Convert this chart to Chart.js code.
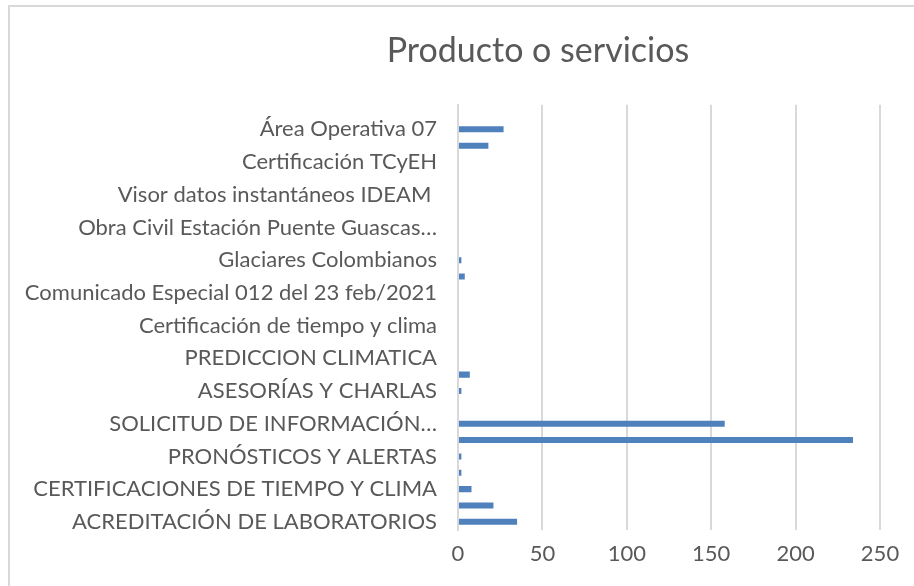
<!DOCTYPE html>
<html>
<head>
<meta charset="utf-8">
<script src="https://cdn.jsdelivr.net/npm/chart.js@4/dist/chart.umd.min.js"></script>
<style>
  html, body { margin: 0; padding: 0; background: #fff; overflow: hidden; }
  .frame {
    position: absolute; left: 8px; top: 5px;
    width: 1056px; height: 610px;
    border: 2px solid #d9d9d9; background: #fff;
  }
  canvas { display: block; }
</style>
</head>
<body>
<div class="frame"><canvas id="chart" width="1056" height="610"></canvas></div>
<script>
// Categorias de abajo hacia arriba (orden de Excel).
// Excel solo muestra una etiqueta de cada dos; las que oculta no se pueden leer, quedan vacias.
const categories = [
  "ACREDITACIÓN DE LABORATORIOS", "",
  "CERTIFICACIONES DE TIEMPO Y CLIMA", "",
  "PRONÓSTICOS Y ALERTAS", "",
  "SOLICITUD DE INFORMACIÓN…", "",
  "ASESORÍAS Y CHARLAS", "",
  "PREDICCION CLIMATICA", "",
  "Certificación de tiempo y clima", "",
  "Comunicado Especial 012 del 23 feb/2021", "",
  "Glaciares Colombianos", "",
  "Obra Civil Estación Puente Guascas…", "",
  "Visor datos instantáneos IDEAM ", "",
  "Certificación TCyEH", "",
  "Área Operativa 07", ""
];

const values = [
  35, 21,
  8, 2,
  2, 234,
  158, 0,
  2, 7,
  0, 0,
  0, 0,
  0, 4,
  2, 0,
  0, 0,
  0, 0,
  0, 18,
  27, 0
];

const xTicks = [0, 50, 100, 150, 200, 250];

const textColor = "#595959";
const gridColor = "#d9d9d9";
const fontFamily = "Lato, 'Open Sans', sans-serif";

// el titulo de Excel va centrado en todo el marco, no solo en el area con padding
const wideTitle = {
  id: "wideTitle",
  afterLayout(chart) {
    const t = chart.titleBlock;
    if (t) {
      t.left = 0;
      t.right = chart.width;
      t.width = chart.width;
    }
  }
};

const ctx = document.getElementById("chart").getContext("2d");
const chart = new Chart(ctx, {
  type: "bar",
  data: {
    labels: categories,
    datasets: [{
      label: "Producto o servicios",
      data: values,
      backgroundColor: "#4f81bd",
      borderWidth: 0,
      categoryPercentage: 1,
      barPercentage: 0.37
    }]
  },
  options: {
    indexAxis: "y",
    responsive: false,
    animation: false,
    layout: { padding: { top: 24, left: 0, right: 186, bottom: 32 } },
    plugins: {
      legend: { display: false },
      tooltip: { enabled: false },
      title: {
        display: true,
        text: "Producto o servicios",
        color: textColor,
        font: { family: fontFamily, size: 34, weight: "normal" },
        padding: { top: 0, bottom: 33 }
      }
    },
    scales: {
      x: {
        min: 0,
        max: 250,
        afterBuildTicks: (scale) => {
          scale.ticks = xTicks.map(v => ({ value: v }));
        },
        grid: { color: gridColor, lineWidth: 2, drawTicks: false },
        border: { display: false },
        ticks: {
          color: textColor,
          font: { family: fontFamily, size: 22 },
          padding: 11
        },
        afterFit: (scale) => { scale.height = 55; }
      },
      y: {
        reverse: true,
        grid: { display: false },
        border: { display: true, color: gridColor, width: 2 },
        ticks: {
          autoSkip: false,
          color: textColor,
          font: { family: fontFamily, size: 22 },
          padding: 13
        },
        afterFit: (scale) => { scale.width = 448; }
      }
    }
  },
  plugins: [wideTitle]
});
</script>
</body>
</html>
